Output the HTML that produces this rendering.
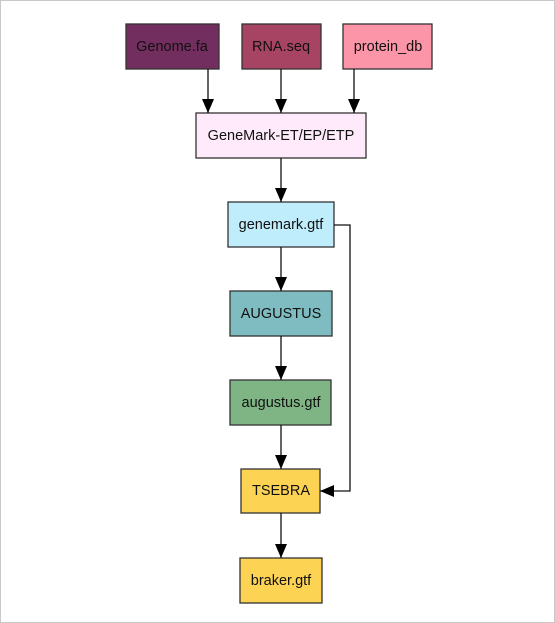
<!DOCTYPE html>
<html><head><style>
body{margin:0;background:#fff}
svg{display:block}
text{font-family:"Liberation Sans",sans-serif;font-size:14.5px;fill:#111;text-anchor:middle;dominant-baseline:central}
rect{stroke:#333;stroke-width:1.3}
line,polyline{stroke:#111;stroke-width:1.3;fill:none}
</style></head><body>
<svg width="555" height="623" viewBox="0 0 555 623">
<rect x="0.5" y="0.5" width="554" height="622" fill="#fff" style="stroke:#c8c8c8;stroke-width:1"/>
<defs><marker id="a" markerWidth="14" markerHeight="12" refX="14" refY="6" orient="auto" markerUnits="userSpaceOnUse"><path d="M0,0 L14,6 L0,12 z" fill="#000"/></marker></defs>
<rect x="126" y="24" width="93" height="45" fill="#722e5e"/><text x="172" y="47">Genome.fa</text>
<rect x="242" y="24" width="79" height="45" fill="#a84463"/><text x="281" y="47">RNA.seq</text>
<rect x="343" y="24" width="89" height="45" fill="#fd95a9"/><text x="388" y="47">protein_db</text>
<rect x="196" y="113" width="170" height="45" fill="#feeafa"/><text x="281" y="136">GeneMark-ET/EP/ETP</text>
<rect x="228" y="202" width="106" height="45" fill="#c0edfc"/><text x="281" y="225">genemark.gtf</text>
<rect x="230" y="291" width="102" height="45" fill="#7fbcc1"/><text x="281" y="314">AUGUSTUS</text>
<rect x="230" y="380" width="101" height="45" fill="#7fb584"/><text x="281" y="403">augustus.gtf</text>
<rect x="241" y="469" width="79" height="44" fill="#fcd352"/><text x="281" y="491">TSEBRA</text>
<rect x="240" y="558" width="82" height="45" fill="#fcd352"/><text x="281" y="581">braker.gtf</text>
<line x1="208" y1="69" x2="208" y2="113" marker-end="url(#a)"/>
<line x1="281" y1="69" x2="281" y2="113" marker-end="url(#a)"/>
<line x1="354" y1="69" x2="354" y2="113" marker-end="url(#a)"/>
<line x1="281" y1="158" x2="281" y2="202" marker-end="url(#a)"/>
<line x1="281" y1="247" x2="281" y2="291" marker-end="url(#a)"/>
<line x1="281" y1="336" x2="281" y2="380" marker-end="url(#a)"/>
<line x1="281" y1="425" x2="281" y2="469" marker-end="url(#a)"/>
<line x1="281" y1="513" x2="281" y2="558" marker-end="url(#a)"/>
<polyline points="334,225 350,225 350,491 320,491" marker-end="url(#a)"/>
</svg>
</body></html>
